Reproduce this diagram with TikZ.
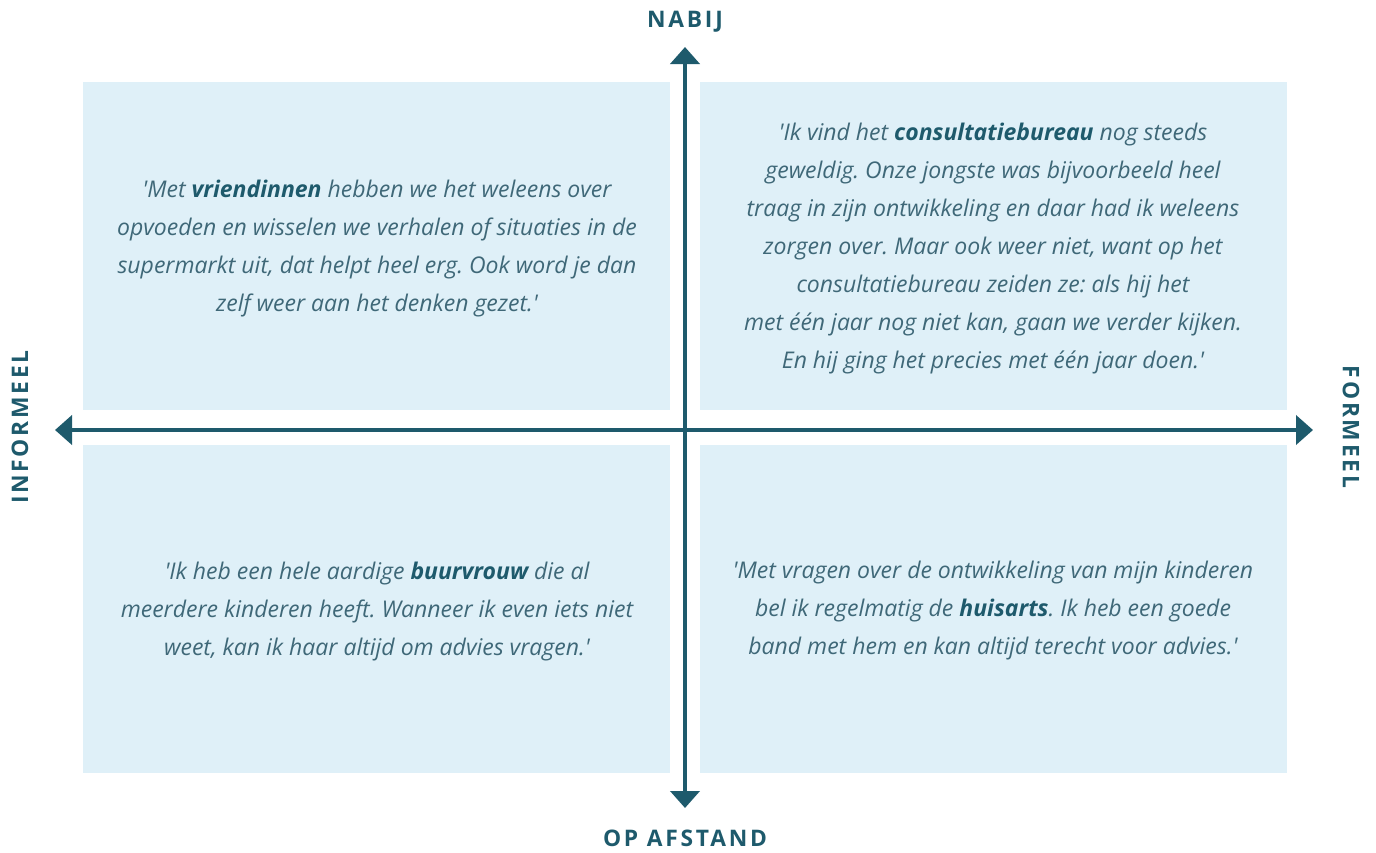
\documentclass[tikz,border=0pt]{standalone}
\usepackage{fontspec}
\setmainfont{Open Sans}
\newfontfamily\labelfont[LetterSpace=12]{Open Sans}
\usetikzlibrary{arrows.meta}
\definecolor{axis}{HTML}{1E5A6C}
\definecolor{boxfill}{HTML}{DFF0F8}
\definecolor{quote}{HTML}{3F6878}
\tikzset{
  quad/.style={fill=boxfill, draw=none},
  quotetext/.style={align=center, text=quote, font=\fontsize{11.5}{19}\selectfont\itshape\frenchspacing, inner sep=0pt},
  axislabel/.style={text=axis, font=\fontsize{11.4}{13}\selectfont\labelfont\bfseries, inner sep=0pt},
  axisline/.style={draw=axis, line width=2pt, -{Triangle[length=8.5pt,width=14.5pt]}},
}
\newcommand{\kw}[1]{{\bfseries\color{axis}#1}}
\newcommand{\sq}{\textquotesingle}
\begin{document}
\begin{tikzpicture}[x=0.5pt,y=-0.5pt]
\useasboundingbox (0,0) rectangle (1376,852);
% quadrants
\fill[quad] (83,82) rectangle (670,410);
\fill[quad] (700,82) rectangle (1287,410);
\fill[quad] (83,445) rectangle (670,773);
\fill[quad] (700,445) rectangle (1287,773);
% axes
\coordinate (c) at (685,430);
\coordinate (top) at (685,47);
\coordinate (bot) at (685,808);
\coordinate (lft) at (55,430);
\coordinate (rgt) at (1313,430);
\draw[axisline] (c) -- (top);
\draw[axisline] (c) -- (bot);
\draw[axisline] (c) -- (lft);
\draw[axisline] (c) -- (rgt);
% labels
\node[axislabel] (nabij) at (685,22) {NABIJ};
\node[axislabel] (opafstand) at (685,838) {OP AFSTAND};
\node[axislabel, rotate=90] (informeel) at (20,427) {INFORMEEL};
\node[axislabel, rotate=-90] (formeel) at (1351,427) {FORMEEL};
% quotes
\node[quotetext] (q1) at (377,249) {\sq Met \kw{vriendinnen} hebben we het weleens over\\opvoeden en wisselen we verhalen of situaties in de\\supermarkt uit, dat helpt heel erg. Ook word je dan\\zelf weer aan het denken gezet.\sq};
\node[quotetext] (q2) at (993,249) {\sq Ik vind het \kw{consultatiebureau} nog steeds\\geweldig. Onze jongste was bijvoorbeeld heel\\traag in zijn ontwikkeling en daar had ik weleens\\zorgen over. Maar ook weer niet, want op het\\consultatiebureau zeiden ze: als hij het\\met één jaar nog niet kan, gaan we verder kijken.\\En hij ging het precies met één jaar doen.\sq};
\node[quotetext] (q3) at (377,612) {\sq Ik heb een hele aardige \kw{buurvrouw} die al\\meerdere kinderen heeft. Wanneer ik even iets niet\\weet, kan ik haar altijd om advies vragen.\sq};
\node[quotetext] (q4) at (993,611) {\sq Met vragen over de ontwikkeling van mijn kinderen\\bel ik regelmatig de \kw{huisarts}. Ik heb een goede\\band met hem en kan altijd terecht voor advies.\sq};
\end{tikzpicture}
\end{document}
